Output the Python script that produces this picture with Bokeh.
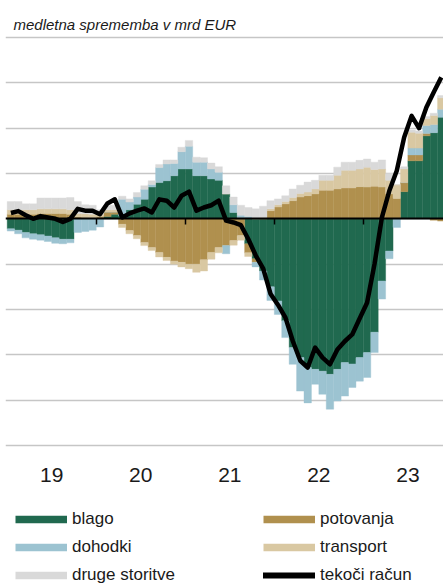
from bokeh.plotting import figure
from bokeh.layouts import column
from bokeh.models import (FixedTicker, LinearAxis, Legend, LegendItem, Range1d,
                          ColumnDataSource, Grid)
from bokeh.embed import file_html
from bokeh.resources import INLINE

# ---- data (mrd EUR, year-on-year change), Jan 2019 .. Nov 2023 ----
blago = [-0.22, -0.25, -0.30, -0.33, -0.35, -0.38, -0.42, -0.45, -0.45, 0.00, 0.00, 0.00,
         0.00, 0.05, 0.10, 0.07, 0.20, 0.32, 0.43, 0.70, 0.80, 0.84, 0.95, 1.10,
         1.10, 0.95, 0.95, 0.88, 0.85, 0.55, 0.14, 0.00, -0.55, -0.88, -1.15, -1.50,
         -1.81, -2.25, -2.84, -3.06, -3.28, -3.32, -3.36, -3.43, -3.32, -3.17, -3.20, -3.06,
         -2.95, -2.50, -1.37, -0.71, 0.00, 0.60, 1.28, 1.28, 1.83, 1.90, 2.24]
potovanja = [0.10, 0.10, 0.10, 0.10, 0.12, 0.12, 0.12, 0.12, 0.10, 0.04, 0.03, 0.02,
             0.05, 0.10, 0.05, -0.12, -0.26, -0.37, -0.52, -0.63, -0.74, -0.85, -0.93, -0.96,
             -1.00, -1.00, -0.90, -0.74, -0.63, -0.59, -0.48, -0.37, -0.20, -0.08, 0.00, 0.18,
             0.26, 0.33, 0.40, 0.48, 0.51, 0.55, 0.63, 0.63, 0.66, 0.68, 0.68, 0.71,
             0.70, 0.72, 0.70, 0.55, 0.45, 0.20, 0.13, 0.13, 0.05, -0.03, -0.05]
dohodki = [-0.05, -0.08, -0.12, -0.12, -0.12, -0.12, -0.12, -0.10, -0.08, -0.30, -0.28, -0.25,
           -0.18, 0.00, 0.00, 0.36, 0.17, 0.16, 0.22, 0.06, 0.33, 0.37, 0.27, 0.38,
           0.50, 0.30, 0.30, 0.22, 0.18, -0.18, 0.17, 0.08, 0.05, -0.10, -0.20, -0.30,
           -0.30, -0.37, -0.37, -0.74, -0.78, -0.33, -0.51, -0.77, -0.70, -0.74, -0.52, -0.52,
           -0.55, -0.45, -0.40, -0.17, -0.19, 0.00, 0.15, 0.15, 0.18, 0.18, 0.18]
transport = [0.10, 0.10, 0.10, 0.10, 0.10, 0.10, 0.10, 0.10, 0.10, 0.08, 0.08, 0.08,
             0.05, 0.05, 0.05, -0.07, -0.07, -0.07, -0.07, -0.07, -0.10, -0.07, -0.07, -0.10,
             -0.10, -0.18, -0.25, -0.15, -0.12, 0.00, -0.10, -0.10, -0.08, 0.00, 0.03, 0.04,
             0.05, 0.05, 0.07, 0.08, 0.08, 0.11, 0.22, 0.22, 0.30, 0.39, 0.39, 0.39,
             0.44, 0.37, 0.40, 0.30, 0.30, 0.30, 0.35, 0.33, 0.15, 0.20, 0.25]
druge = [0.18, 0.18, 0.13, 0.13, 0.24, 0.24, 0.24, 0.24, 0.27, 0.26, 0.20, 0.20,
         0.10, 0.10, 0.10, 0.07, 0.07, 0.10, 0.08, 0.08, 0.07, 0.09, 0.08, 0.10,
         0.13, 0.11, 0.10, 0.13, 0.12, 0.18, 0.17, 0.22, 0.20, 0.22, 0.25, 0.18,
         0.13, 0.13, 0.19, 0.18, 0.22, 0.19, 0.11, 0.11, 0.18, 0.18, 0.18, 0.19,
         0.18, 0.16, 0.20, 0.15, 0.00, 0.05, 0.05, 0.05, 0.05, 0.05, 0.05]
tekoci = [0.13, 0.17, 0.08, 0.00, 0.06, 0.03, 0.00, -0.07, 0.00, 0.22, 0.18, 0.18,
          0.10, 0.34, 0.43, 0.03, 0.12, 0.18, 0.23, 0.14, 0.43, 0.40, 0.25, 0.51,
          0.60, 0.18, 0.25, 0.30, 0.40, -0.04, -0.08, -0.14, -0.45, -0.81, -1.10, -1.66,
          -1.90, -2.18, -2.70, -3.13, -3.28, -2.84, -3.06, -3.21, -2.88, -2.70, -2.55, -2.20,
          -1.85, -1.00, 0.03, 0.62, 1.06, 1.80, 2.27, 2.00, 2.46, 2.80, 3.12]

year_labels = ["19", "20", "21", "22", "23"]

n = len(tekoci)
xc = [i + 0.5 for i in range(n)]
year_starts = [12 * k for k in range(1, len(year_labels))]
year_mids = [12 * k + 6 for k in range(len(year_labels))]

series = [("blago", blago, "#20694f"),
          ("potovanja", potovanja, "#b0904e"),
          ("dohodki", dohodki, "#9cc3d1"),
          ("transport", transport, "#d9c8a2"),
          ("druge storitve", druge, "#d9d9d9")]

pad = 2 / 45.33  # two pixels of headroom so edge grid lines are not clipped
p = figure(width=443, height=495, x_range=Range1d(-0.23, 58.8),
           y_range=Range1d(-5 - pad, 4 + pad),
           output_backend="svg", toolbar_location=None,
           x_axis_location=None, y_axis_location=None,
           min_border_left=5, min_border_right=0, min_border_top=35, min_border_bottom=48)
p.center = [r for r in p.center if not isinstance(r, Grid)]
p.outline_line_color = None
p.title.text = "medletna sprememba v mrd EUR"
p.title.text_font = "Liberation Sans"
p.title.text_font_style = "italic"
p.title.text_font_size = "15px"
p.title.text_color = "#1a1a1a"
p.title.align = "left"
p.title.offset = 8
p.title.standoff = 6

p.add_layout(Grid(dimension=1, ticker=FixedTicker(ticks=[-5, -4, -3, -2, -1, 1, 2, 3, 4]),
                  grid_line_color="#c6c6c6", grid_line_width=1.5))

# stacked bars (positives and negatives stacked separately)
pos = [0.0] * n
neg = [0.0] * n
for name, vals, col in series:
    bottoms, tops = [], []
    for i, v in enumerate(vals):
        if v >= 0:
            bottoms.append(pos[i]); tops.append(pos[i] + v); pos[i] += v
        else:
            bottoms.append(neg[i]); tops.append(neg[i] + v); neg[i] += v
    src = ColumnDataSource(dict(x=xc, bottom=bottoms, top=tops))
    p.vbar(x="x", bottom="bottom", top="top", width=1.0, source=src,
           fill_color=col, line_color=col, line_width=0.4)

p.line(xc, tekoci, line_color="black", line_width=4.5, line_join="round")

# axes
xa = LinearAxis(ticker=FixedTicker(ticks=year_mids),
                major_label_overrides={m: l for m, l in zip(year_mids, year_labels)},
                axis_line_color=None, major_tick_line_color=None, minor_tick_line_color=None,
                major_tick_out=0, major_tick_in=0,
                major_label_standoff=20, major_label_text_font="Liberation Sans",
                major_label_text_font_size="21px", major_label_text_color="#1a1a1a")
p.add_layout(xa, "below")
za = LinearAxis(ticker=FixedTicker(ticks=year_starts), fixed_location=0,
                axis_line_color="black", axis_line_width=2,
                major_tick_line_color="black", major_tick_line_width=1.5,
                major_tick_out=6, major_tick_in=0, minor_tick_line_color=None,
                major_label_text_color=None, major_label_text_font_size="1px",
                major_label_standoff=0)
p.add_layout(za, "below")

# ---- legend panel ----
lg = figure(width=443, height=90, x_range=Range1d(0, 1), y_range=Range1d(0, 1),
            output_backend="svg", toolbar_location=None,
            x_axis_location=None, y_axis_location=None,
            min_border_left=0, min_border_right=0, min_border_top=0, min_border_bottom=0)
lg.center = [r for r in lg.center if not isinstance(r, Grid)]
lg.outline_line_color = None

nan = float("nan")
def proxy(col, w, cap="butt"):
    return lg.line(x=[nan], y=[nan], line_color=col, line_width=w, line_cap=cap)

sw = {name: proxy(col, 7.5) for name, _, col in series}
sw_line = proxy("black", 6, "round")

common = dict(padding=0, margin=0, spacing=8, glyph_width=52, glyph_height=20,
              label_height=20, label_standoff=5, label_text_font="Liberation Sans",
              label_text_font_size="17px", label_text_color="#1a1a1a",
              border_line_color=None, background_fill_alpha=0)
leg1 = Legend(items=[LegendItem(label="blago", renderers=[sw["blago"]]),
                     LegendItem(label="dohodki", renderers=[sw["dohodki"]]),
                     LegendItem(label="druge storitve", renderers=[sw["druge storitve"]])],
              location=(10, 0), **common)
leg2 = Legend(items=[LegendItem(label="potovanja", renderers=[sw["potovanja"]]),
                     LegendItem(label="transport", renderers=[sw["transport"]]),
                     LegendItem(label="tekoči račun", renderers=[sw_line])],
              location=(258, 0), **common)
lg.add_layout(leg1)
lg.add_layout(leg2)

layout = column(p, lg, spacing=0)
open("out.html", "w").write(file_html(layout, INLINE))
